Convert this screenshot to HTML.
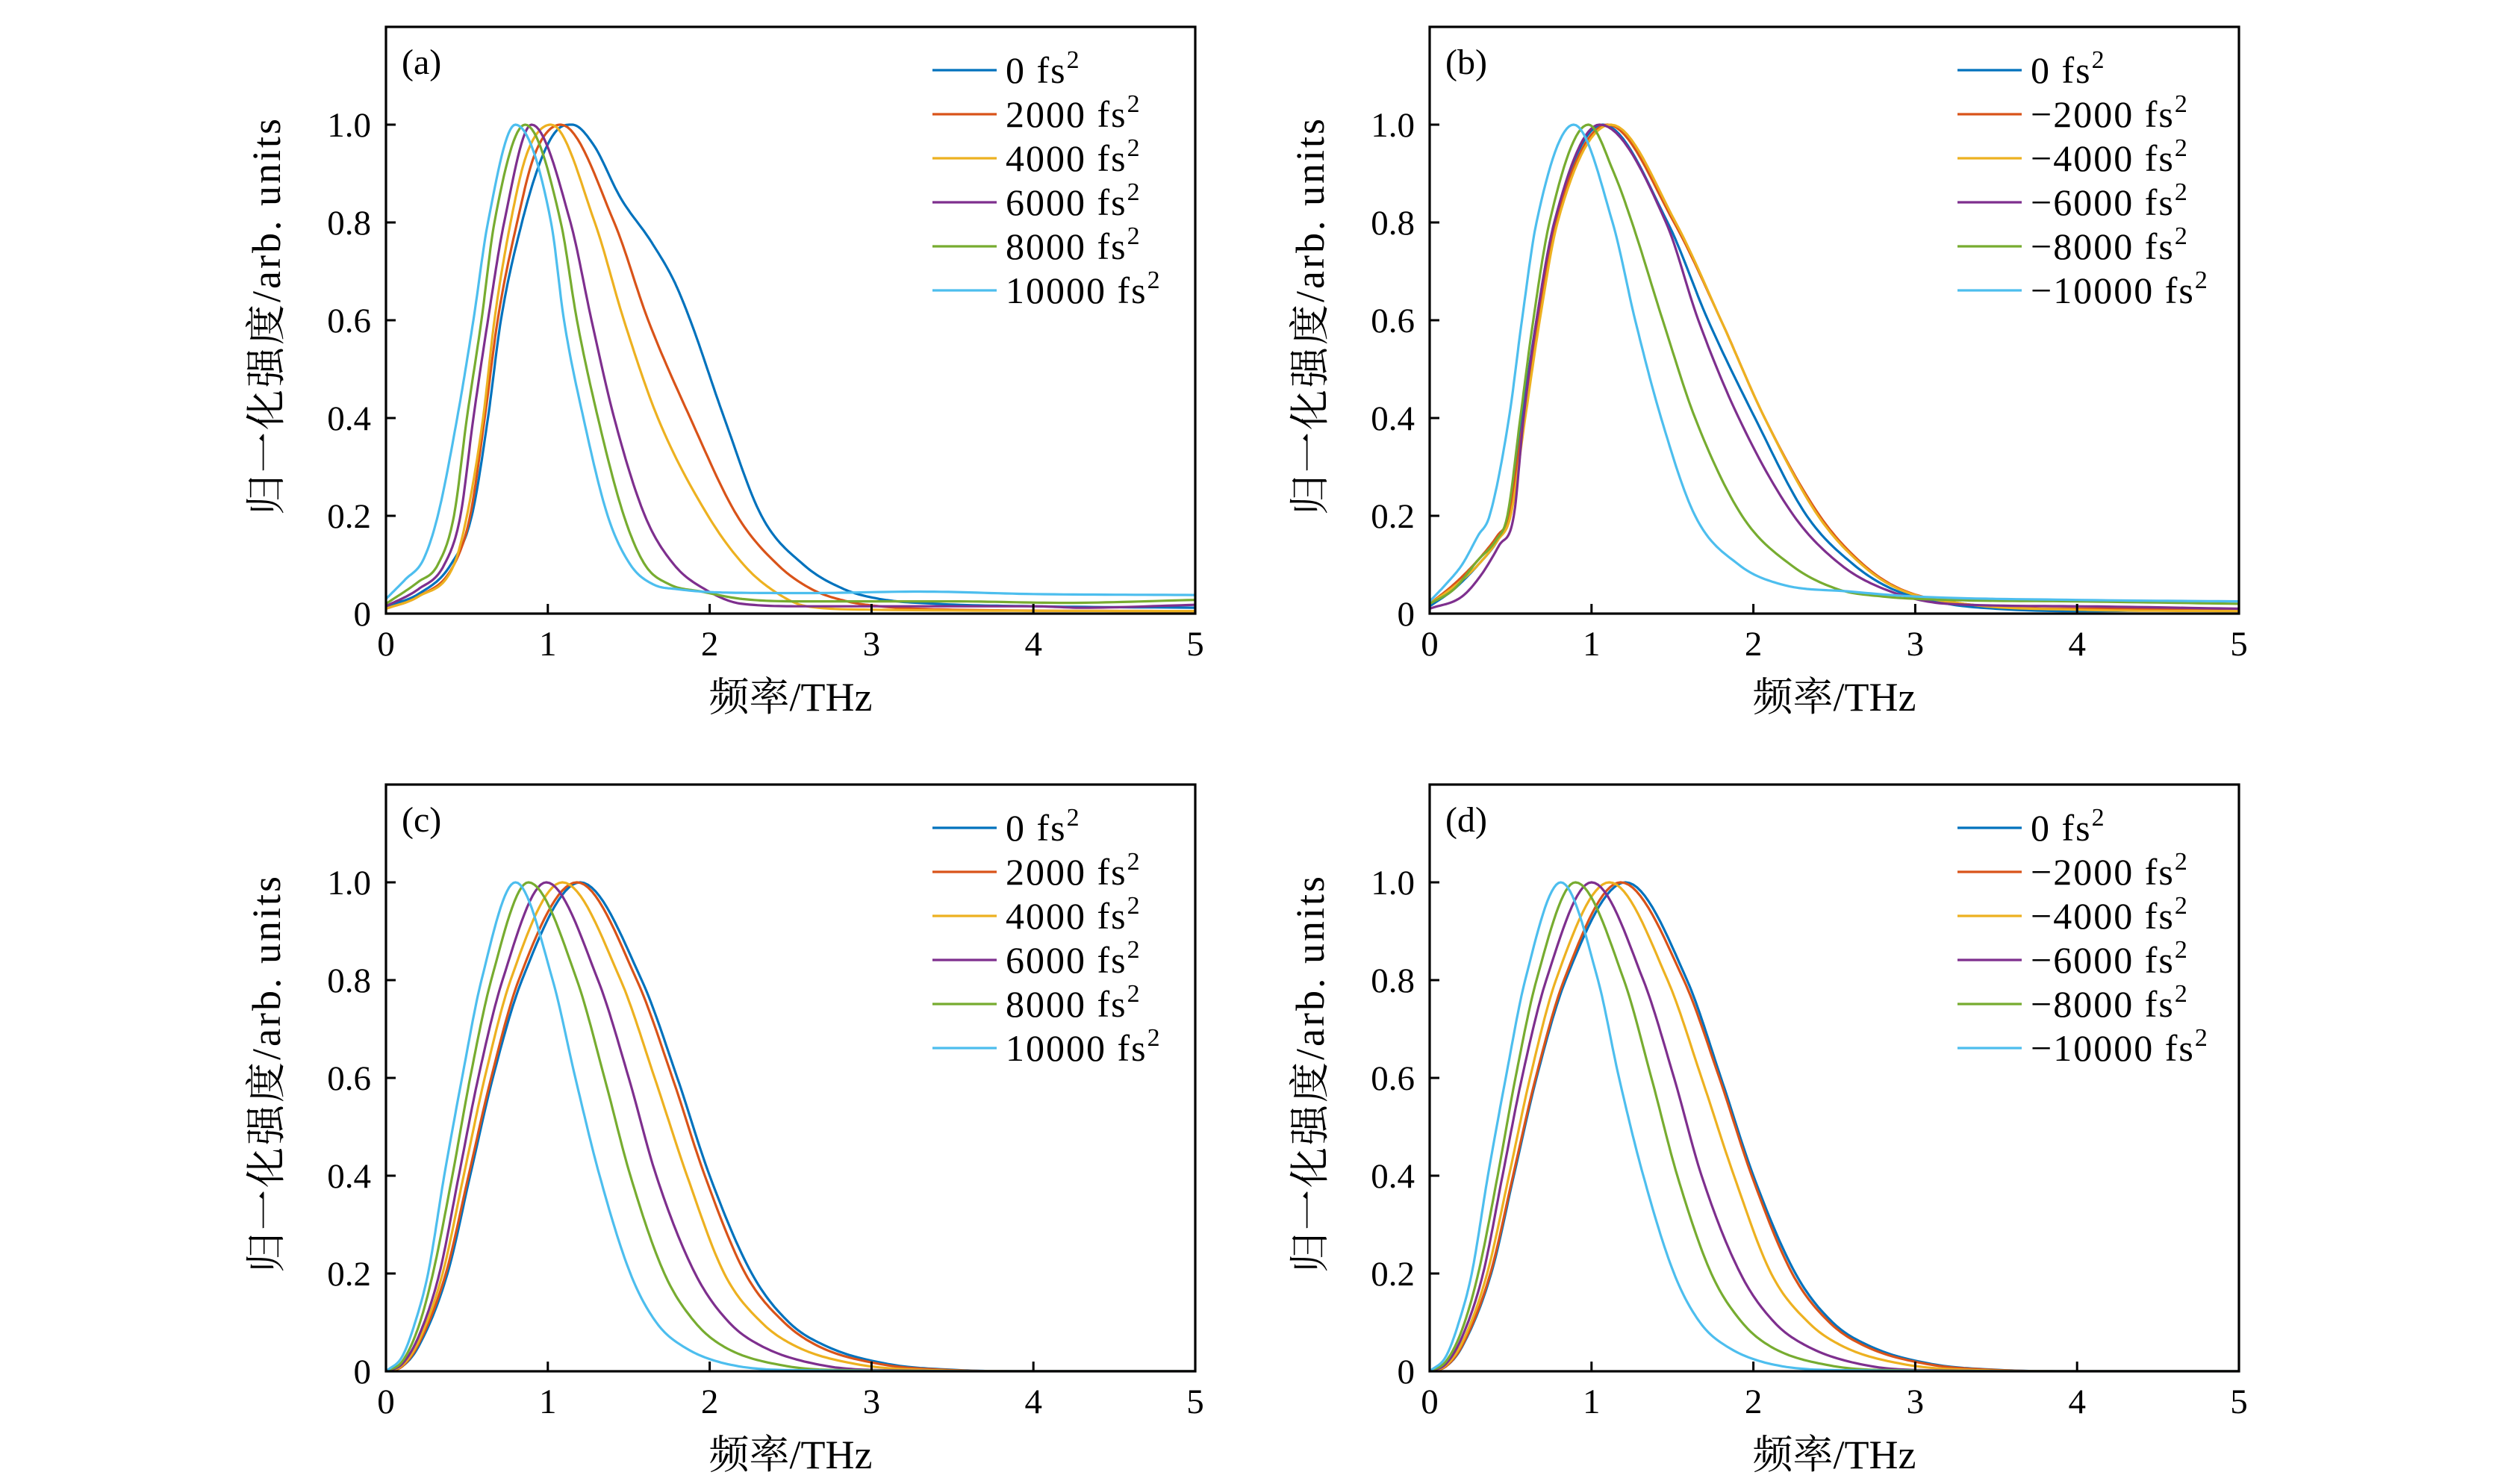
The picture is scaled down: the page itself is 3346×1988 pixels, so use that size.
<!DOCTYPE html>
<html><head><meta charset="utf-8"><style>
html,body{margin:0;padding:0;background:#fff;}
svg{display:block;}
text{font-family:"Liberation Serif","Noto Serif CJK SC",serif;fill:#000;}
</style></head><body>
<svg id="fig" width="3346" height="1988" viewBox="0 0 3346 1988" xmlns="http://www.w3.org/2000/svg"></svg>
<script>
// ---- data (x in THz, y normalized) ----
const xTicks = [0,1,2,3,4,5];
const yTicks = [0,0.2,0.4,0.6,0.8,1.0];
const yTickLabels = ["0","0.2","0.4","0.6","0.8","1.0"];
const legendA = ["0 fs","2000 fs","4000 fs","6000 fs","8000 fs","10000 fs"];
const legendB = ["0 fs","\u22122000 fs","\u22124000 fs","\u22126000 fs","\u22128000 fs","\u221210000 fs"];

const a0 = [[0,.015],[.2,.04],[.4,.1],[.53,.2],[.63,.4],[.71,.6],[.84,.8],[.96,.93],[1.06,.99],[1.15,1],[1.28,.96],[1.45,.85],[1.64,.76],[1.78,.68],[1.88,.6],[2.09,.4],[2.32,.2],[2.58,.1],[2.83,.05],[3.05,.03],[3.4,.02],[4,.015],[5,.012]];
const a1 = [[0,.01],[.2,.035],[.42,.1],[.52,.2],[.61,.4],[.69,.6],[.81,.8],[.92,.94],[1.08,1],[1.41,.8],[1.62,.6],[1.88,.4],[2.17,.2],[2.42,.1],[2.63,.05],[2.85,.025],[3.05,.015],[3.5,.008],[5,.005]];
const a2 = [[0,.01],[.2,.035],[.42,.1],[.5,.2],[.6,.4],[.67,.6],[.77,.8],[.87,.94],[1.02,1],[1.29,.8],[1.47,.6],[1.68,.4],[1.99,.2],[2.21,.1],[2.38,.05],[2.6,.015],[3,.008],[5,.005]];
const a3 = [[0,.015],[.2,.05],[.36,.1],[.46,.2],[.54,.4],[.63,.6],[.73,.8],[.9,1],[1.14,.8],[1.27,.6],[1.41,.4],[1.6,.2],[1.78,.1],[1.97,.05],[2.2,.02],[2.6,.015],[4,.015],[4.3,.012],[5,.018]];
const a4 = [[0,.02],[.2,.065],[.32,.1],[.42,.2],[.5,.4],[.59,.6],[.67,.8],[.86,1],[1.08,.8],[1.18,.6],[1.31,.4],[1.47,.2],[1.6,.1],[1.75,.06],[1.95,.045],[2.2,.03],[2.6,.025],[3.5,.025],[4.2,.022],[5,.028]];
const a5 = [[0,.03],[.12,.07],[.23,.11],[.32,.2],[.44,.4],[.54,.6],[.63,.8],[.8,1],[1.02,.8],[1.1,.6],[1.22,.4],[1.37,.2],[1.51,.1],[1.65,.06],[1.8,.05],[2.1,.043],[2.6,.042],[3.3,.045],[4,.04],[5,.038]];

const b0 = [[0,.015],[.15,.05],[.3,.1],[.42,.15],[.49,.2],[.57,.4],[.66,.6],[.77,.8],[1.07,1],[1.47,.8],[1.72,.6],[2.01,.4],[2.33,.2],[2.62,.1],[2.86,.05],[3.2,.02],[3.5,.01],[4,.005],[5,.01]];
const b1 = [[0,.02],[.15,.06],[.3,.11],[.42,.16],[.49,.2],[.58,.4],[.67,.6],[.78,.8],[1.1,1],[1.51,.8],[1.8,.6],[2.07,.4],[2.41,.2],[2.68,.1],[2.91,.05],[3.3,.02],[4,.01],[5,.01]];
const b2 = [[0,.02],[.15,.055],[.3,.1],[.42,.15],[.5,.2],[.59,.4],[.68,.6],[.79,.8],[1.12,1],[1.52,.8],[1.8,.6],[2.07,.4],[2.4,.2],[2.67,.1],[2.9,.05],[3.3,.02],[4,.008],[5,.005]];
const b3 = [[0,.01],[.2,.035],[.32,.08],[.43,.14],[.52,.2],[.58,.4],[.66,.6],[.77,.8],[1.05,1],[1.46,.8],[1.66,.6],[1.91,.4],[2.25,.2],[2.54,.1],[2.81,.05],[3.2,.02],[4,.015],[5,.01]];
const b4 = [[0,.02],[.15,.05],[.3,.11],[.41,.15],[.48,.2],[.56,.4],[.64,.6],[.74,.8],[.98,1],[1.14,.9],[1.25,.8],[1.44,.6],[1.64,.4],[1.93,.2],[2.23,.1],[2.52,.05],[2.8,.035],[3.2,.028],[4,.025],[5,.02]];
const b5 = [[0,.025],[.1,.06],[.2,.1],[.3,.16],[.37,.2],[.49,.4],[.57,.6],[.66,.8],[.89,1],[1.13,.8],[1.27,.6],[1.43,.4],[1.64,.2],[1.91,.1],[2.17,.06],[2.6,.045],[3,.035],[4,.028],[5,.025]];

const c0 = [[0,0],[.1,.01],[.2,.05],[.38,.2],[.52,.4],[.66,.6],[.84,.8],[1.2,1],[1.58,.8],[1.8,.6],[2,.4],[2.26,.2],[2.49,.1],[2.73,.05],[3.1,.015],[3.5,.003],[4,0],[5,0]];
const c1 = [[0,0],[.1,.01],[.2,.055],[.37,.2],[.51,.4],[.65,.6],[.82,.8],[1.18,1],[1.55,.8],[1.77,.6],[1.97,.4],[2.22,.2],[2.46,.1],[2.68,.05],[3.05,.015],[3.45,.003],[4,0],[5,0]];
const c2 = [[0,0],[.1,.012],[.2,.06],[.35,.2],[.48,.4],[.61,.6],[.77,.8],[1.09,1],[1.45,.8],[1.66,.6],[1.86,.4],[2.09,.2],[2.32,.1],[2.54,.05],[2.9,.015],[3.3,.003],[4,0],[5,0]];
const c3 = [[0,0],[.1,.015],[.2,.07],[.33,.2],[.45,.4],[.57,.6],[.72,.8],[.99,1],[1.31,.8],[1.5,.6],[1.67,.4],[1.91,.2],[2.12,.1],[2.33,.05],[2.7,.012],[3.1,.002],[4,0],[5,0]];
const c4 = [[0,0],[.1,.02],[.2,.09],[.29,.2],[.41,.4],[.52,.6],[.65,.8],[.88,1],[1.18,.8],[1.35,.6],[1.51,.4],[1.72,.2],[1.91,.1],[2.09,.05],[2.45,.012],[2.9,.002],[4,0],[5,0]];
const c5 = [[0,0],[.1,.03],[.18,.1],[.26,.2],[.36,.4],[.47,.6],[.59,.8],[.8,1],[1.03,.8],[1.17,.6],[1.32,.4],[1.51,.2],[1.67,.1],[1.84,.05],[2.15,.012],[2.6,.002],[4,0],[5,0]];

const d0 = [[0,0],[.1,.01],[.2,.05],[.38,.2],[.52,.4],[.66,.6],[.84,.8],[1.21,1],[1.59,.8],[1.8,.6],[2,.4],[2.26,.2],[2.49,.1],[2.73,.05],[3.1,.015],[3.5,.003],[4,0],[5,0]];
const d1 = [[0,0],[.1,.01],[.2,.052],[.375,.2],[.515,.4],[.655,.6],[.83,.8],[1.18,1],[1.57,.8],[1.79,.6],[1.99,.4],[2.24,.2],[2.47,.1],[2.7,.05],[3.07,.015],[3.47,.003],[4,0],[5,0]];
const d2 = [[0,0],[.1,.012],[.2,.058],[.355,.2],[.49,.4],[.62,.6],[.78,.8],[1.11,1],[1.47,.8],[1.68,.6],[1.88,.4],[2.11,.2],[2.34,.1],[2.56,.05],[2.92,.015],[3.32,.003],[4,0],[5,0]];
const d3 = [[0,0],[.1,.015],[.2,.07],[.33,.2],[.45,.4],[.57,.6],[.72,.8],[1.0,1],[1.32,.8],[1.51,.6],[1.68,.4],[1.92,.2],[2.13,.1],[2.34,.05],[2.7,.012],[3.1,.002],[4,0],[5,0]];
const d4 = [[0,0],[.1,.02],[.2,.085],[.3,.2],[.42,.4],[.53,.6],[.66,.8],[.9,1],[1.2,.8],[1.37,.6],[1.53,.4],[1.74,.2],[1.93,.1],[2.11,.05],[2.47,.012],[2.9,.002],[4,0],[5,0]];
const d5 = [[0,0],[.1,.03],[.18,.1],[.26,.2],[.36,.4],[.47,.6],[.59,.8],[.81,1],[1.04,.8],[1.17,.6],[1.32,.4],[1.51,.2],[1.67,.1],[1.84,.05],[2.15,.012],[2.6,.002],[4,0],[5,0]];

const colors = ["#0072BD","#D95319","#EDB120","#7E2F8E","#77AC30","#4DBEEE"];
const panels = [
  {id:"a", left:517, top:36, series:[a0,a1,a2,a3,a4,a5], names:legendA, legX:1249},
  {id:"b", left:1915, top:36, series:[b0,b1,b2,b3,b4,b5], names:legendB, legX:2622},
  {id:"c", left:517, top:1051, series:[c0,c1,c2,c3,c4,c5], names:legendA, legX:1249},
  {id:"d", left:1915, top:1051, series:[d0,d1,d2,d3,d4,d5], names:legendB, legX:2622}
];
const W = 1084, H = 786, XMAX = 5, YMAX = 1.2;
const NS = "http://www.w3.org/2000/svg";
const svg = document.getElementById("fig");
function mk(tag, attrs, parent){
  const e = document.createElementNS(NS, tag);
  for (const k in attrs) e.setAttribute(k, attrs[k]);
  (parent||svg).appendChild(e);
  return e;
}
// monotone cubic interpolation sampling
function sample(pts){
  const n = pts.length, xs = pts.map(p=>p[0]), ys = pts.map(p=>p[1]);
  const d = [], m = new Array(n);
  for (let i=0;i<n-1;i++) d.push((ys[i+1]-ys[i])/(xs[i+1]-xs[i]));
  m[0]=d[0]; m[n-1]=d[n-2];
  for (let i=1;i<n-1;i++) m[i] = (d[i-1]*d[i]<=0)?0:(d[i-1]+d[i])/2;
  for (let i=0;i<n-1;i++){
    if (d[i]===0){m[i]=0;m[i+1]=0;continue;}
    const a=m[i]/d[i], b=m[i+1]/d[i], s=a*a+b*b;
    if (s>9){const t=3/Math.sqrt(s); m[i]=t*a*d[i]; m[i+1]=t*b*d[i];}
  }
  const out=[];
  for (let i=0;i<n-1;i++){
    const h = xs[i+1]-xs[i], steps = 16;
    for (let k=0;k<steps;k++){
      const t=k/steps, t2=t*t, t3=t2*t;
      const y = (2*t3-3*t2+1)*ys[i] + (t3-2*t2+t)*h*m[i] + (-2*t3+3*t2)*ys[i+1] + (t3-t2)*h*m[i+1];
      out.push([xs[i]+t*h, y]);
    }
  }
  out.push([xs[n-1], ys[n-1]]);
  return out;
}

panels.forEach(p=>{
  const X = v => p.left + v/XMAX*W;
  const Y = v => p.top + H - v/YMAX*H;
  const g = mk("g", {});
  
  
  const cp = mk("clipPath", {id:"clip-"+p.id}, g);
  mk("rect", {x:p.left, y:p.top, width:W, height:H}, cp);
  p.series.forEach((s,i)=>{
    const pts = sample(s);
    const dstr = pts.map((q,j)=>(j?"L":"M")+X(q[0]).toFixed(1)+","+Y(Math.max(q[1],-0.01)).toFixed(1)).join("");
    const path = mk("path", {d:dstr, fill:"none", stroke:colors[i], "stroke-width":3.2, "stroke-linejoin":"round", "clip-path":"url(#clip-"+p.id+")"}, g);
    
    
  });
  xTicks.forEach(t=>{
    const l = mk("line", {x1:X(t), x2:X(t), y1:p.top+H, y2:p.top+H-13, stroke:"#000", "stroke-width":3}, g);
    
    
    const tx = mk("text", {x:X(t), y:p.top+H+56, "font-size":47, "text-anchor":"middle"}, g);
    tx.textContent = String(t);
    
    
  });
  yTicks.forEach((t,i)=>{
    const l = mk("line", {x1:p.left, x2:p.left+13, y1:Y(t), y2:Y(t), stroke:"#000", "stroke-width":3}, g);
    
    
    const tx = mk("text", {x:p.left-20, y:Y(t)+16, "font-size":47, "text-anchor":"end"}, g);
    tx.textContent = yTickLabels[i];
    
    
  });
  const fr = mk("rect", {x:p.left, y:p.top, width:W, height:H, fill:"none", stroke:"#000", "stroke-width":3.2}, g);
  
  
  const lab = mk("text", {x:p.left+21, y:p.top+63, "font-size":48}, g);
  lab.textContent = "("+p.id+")";
  
  
  const xt = mk("text", {x:p.left+W/2, y:p.top+H+130, "font-size":54, "text-anchor":"middle"}, g);
  xt.textContent = "频率/THz";
  
  
  const yx = p.left-142, yy = p.top+H/2 - 6;
  const yt = mk("text", {x:yx, y:yy, "font-size":54, "letter-spacing":3, "text-anchor":"middle", transform:"rotate(-90 "+yx+" "+yy+")"}, g);
  yt.textContent = "归一化强度/arb. units";
  
  
  p.names.forEach((nm,i)=>{
    const ly = p.top + 58 + i*59;
    const le = mk("g", {}, g);
    
    
    mk("line", {x1:p.legX, x2:p.legX+86, y1:ly, y2:ly, stroke:colors[i], "stroke-width":3.2}, le);
    const t = mk("text", {x:p.legX+98, y:ly+17, "font-size":50, "letter-spacing":2}, le);
    t.textContent = nm;
    const sup = mk("tspan", {"font-size":34, dy:-20}, t);
    sup.textContent = "2";
  });
});
</script>
</body></html>
